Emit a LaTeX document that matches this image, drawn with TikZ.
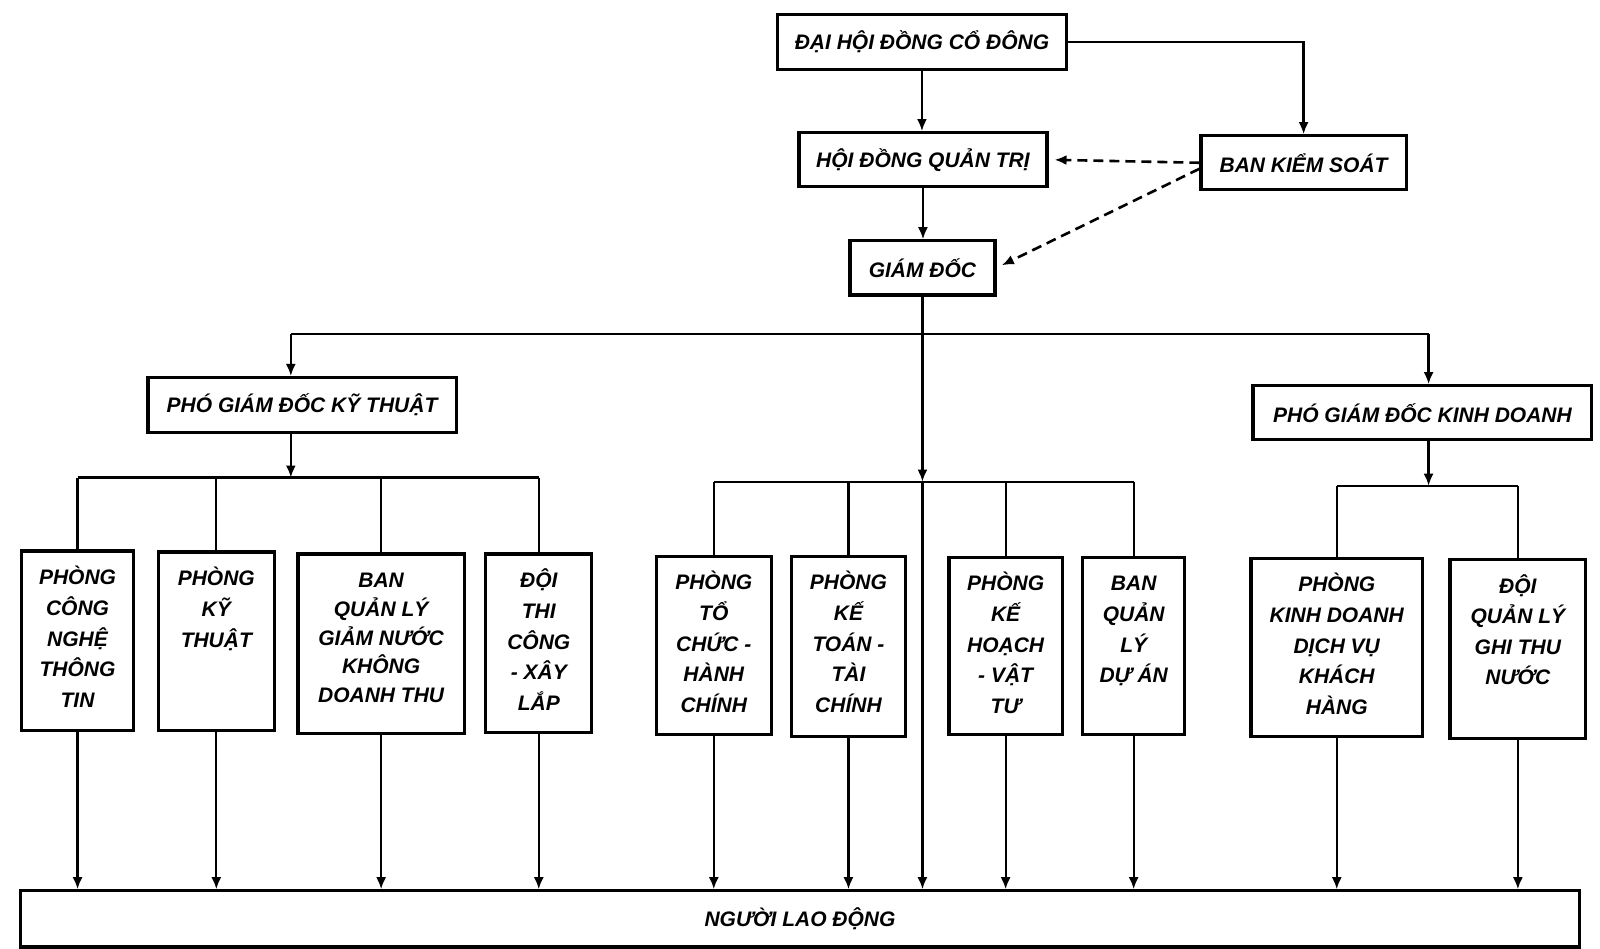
\documentclass[tikz,border=0pt]{standalone}
\usepackage{fontspec}
\setmainfont{Liberation Sans}
\usetikzlibrary{arrows.meta,calc}
\newcommand\boxfont{\fontsize{10.5}{15.3}\selectfont\bfseries\itshape}
\begin{document}
\begin{tikzpicture}[x=0.5102pt,y=-0.5102pt,
  box/.style 2 args={draw, line width=1.6pt, minimum width=#1*0.5102pt,
    minimum height=#2*0.5102pt, inner sep=0pt, font=\boxfont, align=center},
  txt/.style={anchor=north, inner sep=0pt, align=center, font=\boxfont},
  ln/.style={line width=1.1pt},
  ar/.style={line width=1.1pt, -{Latex[length=6pt,width=5pt]}},
  dsh/.style={line width=1.3pt, dash pattern=on 5pt off 3pt, -{Latex[length=6pt,width=5pt]}}]
\fill[white] (0,0) rectangle (1568,930);
\useasboundingbox (0,0) rectangle (1568,930);
% top nodes
\node[box={283}{54}] (dh) at (903.5,41) {ĐẠI HỘI ĐỒNG CỔ ĐÔNG};
\node[box={243}{53}] (hd) at (904.5,156.5) {HỘI ĐỒNG QUẢN TRỊ};
\node[box={201}{53}] (bks) at (1277.5,159.5) {BAN KIỂM SOÁT};
\node[box={142}{53}] (gd) at (904,262.5) {GIÁM ĐỐC};
\node[box={302}{54}] (pkt) at (296,397) {PHÓ GIÁM ĐỐC KỸ THUẬT};
\node[box={332}{53}] (pkd) at (1394,404.5) {PHÓ GIÁM ĐỐC KINH DOANH};
% bottom boxes
\node[box={110}{176}] (b1) at (76,628) {};
\node[box={114}{175}] (b2) at (212,628.5) {};
\node[box={163}{176}] (b3) at (373.5,631) {};
\node[box={104}{175}] (b4) at (528,630.5) {};
\node[box={113}{175}] (b5) at (699.5,632.5) {};
\node[box={111}{177}] (b6) at (831.5,633.5) {};
\node[box={111}{174}] (b7) at (985.5,633) {};
\node[box={100}{174}] (b8) at (1111,633) {};
\node[box={168}{175}] (b9) at (1310,634.5) {};
\node[box={133}{176}] (b10) at (1487.5,636) {};
\node[txt] (t1) at ([yshift=-6.5pt]b1.north) {\rule{0pt}{11pt}PHÒNG\\CÔNG\\NGHỆ\\THÔNG\\TIN};
\node[txt] (t2) at ([yshift=-6.5pt]b2.north) {\rule{0pt}{11pt}PHÒNG\\KỸ\\THUẬT};
\node[txt] (t3) at ([yshift=-6.5pt]b3.north) {\rule{0pt}{11pt}BAN\\[-1pt]QUẢN LÝ\\[-1pt]GIẢM NƯỚC\\[-1pt]KHÔNG\\[-1pt]DOANH THU};
\node[txt] (t4) at ([yshift=-6.5pt]b4.north) {\rule{0pt}{11pt}ĐỘI\\THI\\CÔNG\\- XÂY\\LẮP};
\node[txt] (t5) at ([yshift=-6.5pt]b5.north) {\rule{0pt}{11pt}PHÒNG\\TỔ\\CHỨC -\\HÀNH\\CHÍNH};
\node[txt] (t6) at ([yshift=-6.5pt]b6.north) {\rule{0pt}{11pt}PHÒNG\\KẾ\\TOÁN -\\TÀI\\CHÍNH};
\node[txt] (t7) at ([yshift=-6.5pt]b7.north) {\rule{0pt}{11pt}PHÒNG\\KẾ\\HOẠCH\\- VẬT\\TƯ};
\node[txt] (t8) at ([yshift=-6.5pt]b8.north) {\rule{0pt}{11pt}BAN\\QUẢN\\LÝ\\DỰ ÁN};
\node[txt] (t9) at ([yshift=-6.5pt]b9.north) {\rule{0pt}{11pt}PHÒNG\\KINH DOANH\\DỊCH VỤ\\KHÁCH\\HÀNG};
\node[txt] (t10) at ([yshift=-6.5pt]b10.north) {\rule{0pt}{11pt}ĐỘI\\QUẢN LÝ\\GHI THU\\NƯỚC};
\node[box={1528}{55}] (nld) at (784,900.5) {NGƯỜI LAO ĐỘNG};
% top connectors
\draw[ar] (dh.south) -- (dh.south |- hd.north);
\draw[ar] (hd.south) -- (hd.south |- gd.north);
\draw[ar] (dh.east) -| (bks.north);
\draw[dsh, shorten >=3pt] (bks.west) -- (hd.east);
\draw[dsh, shorten >=3pt] ([yshift=-3pt]bks.west) -- (gd.east);
% top bus
\coordinate (tbL) at (285,327);
\coordinate (tbR) at (1400,327);
\coordinate (mb) at (904,472);
\draw[ln] (tbL) -- (tbR);
\draw[ar] (tbL) -- (tbL |- pkt.north);
\draw[ar] (tbR) -- (tbR |- pkd.north);
\draw[ar] (gd.south) -- (mb);
\draw[ar] (mb) -- (mb |- nld.north);
% left group
\coordinate (lb) at (285,468);
\draw[ar] (lb |- pkt.south) -- (lb);
\draw[ln] (b1.north |- lb) -- (b4.north |- lb);
\foreach \b in {b1,b2,b3,b4} \draw[ln] (\b.north |- lb) -- (\b.north);
% middle group
\draw[ln] (b5.north |- mb) -- (b8.north |- mb);
\foreach \b in {b5,b6,b7,b8} \draw[ln] (\b.north |- mb) -- (\b.north);
% right group
\coordinate (rb) at (1400,476);
\draw[ar] (rb |- pkd.south) -- (rb);
\draw[ln] (b9.north |- rb) -- (b10.north |- rb);
\foreach \b in {b9,b10} \draw[ln] (\b.north |- rb) -- (\b.north);
% down to workers
\foreach \b in {b1,b2,b3,b4,b5,b6,b7,b8,b9,b10} \draw[ar] (\b.south) -- (\b.south |- nld.north);
\end{tikzpicture}
\end{document}
